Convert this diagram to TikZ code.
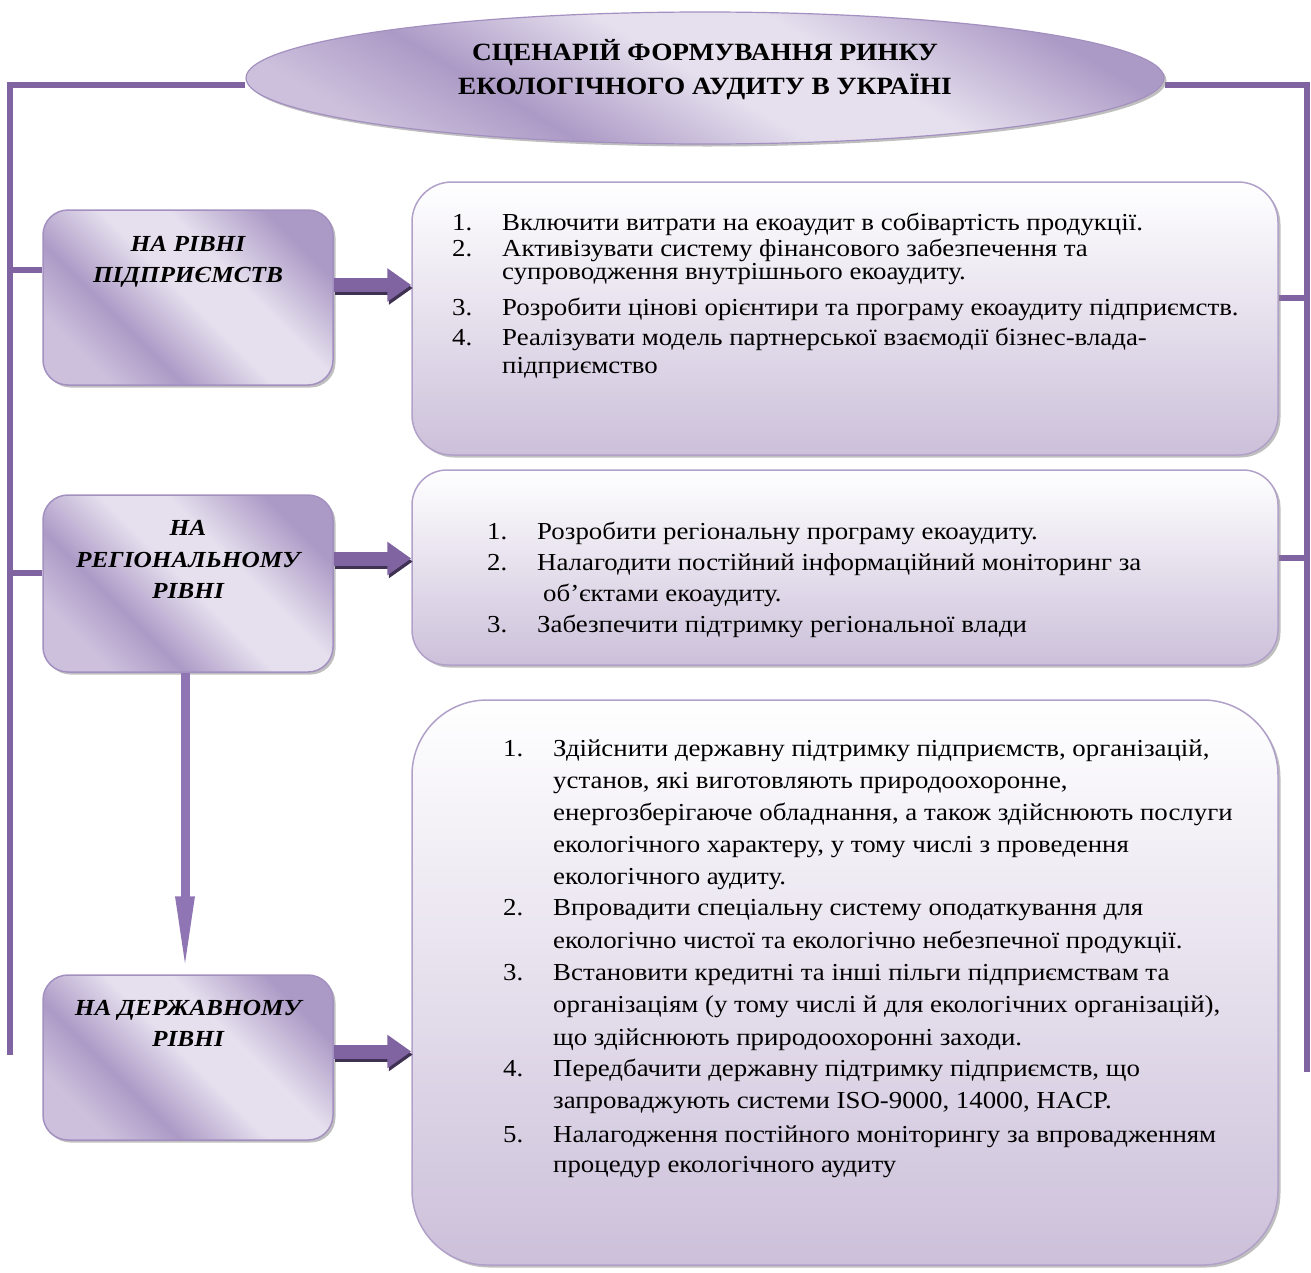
\documentclass[tikz,border=0pt]{standalone}
\usepackage{fontspec}
\setmainfont{Liberation Serif}[FakeStretch=1.1]
\usetikzlibrary{shapes.geometric,shadows,calc,arrows.meta,backgrounds}
\definecolor{buspurple}{HTML}{8064A2}
\definecolor{lpDark}{HTML}{AC9AC6}
\definecolor{lpLight}{HTML}{E6E0EE}
\definecolor{rbBottom}{HTML}{CCC0DA}
\definecolor{edgepurple}{HTML}{A390C0}
\definecolor{arrowshadow}{HTML}{3F3151}
\definecolor{vfill}{HTML}{8F75B3}
\pgfdeclareverticalshading{lvlshade}{100bp}{color(0bp)=(lpLight!55!lpDark); color(25bp)=(lpLight!55!lpDark); color(36bp)=(lpDark); color(50bp)=(lpLight); color(60bp)=(lpLight); color(75bp)=(lpDark); color(100bp)=(lpDark)}
\tikzset{
  bus/.style={buspurple, line width=6pt},
  levelbox/.style={rounded corners=25pt, draw=edgepurple, line width=1.5pt, shade, shading=lvlshade, shading angle=-45,
    minimum width=290pt, drop shadow={shadow xshift=2.5pt, shadow yshift=-2.5pt, fill=black!50}},
  listbox/.style={draw=edgepurple!85, line width=1.5pt, top color=white, bottom color=rbBottom, minimum width=866pt,
    drop shadow={shadow xshift=2.5pt, shadow yshift=-2.5pt, fill=black!50}},
  titleshape/.style={ellipse, draw=edgepurple, line width=1.2pt, shade, shading=lvlshade, shading angle=-30,
    minimum width=918pt, minimum height=132pt, drop shadow={shadow xshift=2.5pt, shadow yshift=-2.5pt, fill=black!50}},
  titletext/.style={align=center, font=\fontsize{24.8}{34}\selectfont\bfseries, inner sep=0pt},
  lvltext/.style={align=center, font=\fontsize{23}{31.5}\selectfont\bfseries\itshape, inner sep=0pt},
  listtext/.style={font=\fontsize{24.4}{24}\selectfont, inner sep=0pt, anchor=base west},
  blockarrow/.style={buspurple, line width=14pt, -{Triangle[width=32pt,length=24pt]}},
  arrowshade/.style={arrowshadow, line width=14pt, -{Triangle[width=32pt,length=24pt]}, transform canvas={xshift=1.5pt,yshift=-3pt}},
  vbar/.style={vfill, line width=9pt, -{Triangle[width=17pt,length=78pt]}},
}
\newcommand\itemline[5]{%
  \node[listtext] (#1n) at (#2,#3) {#4};
  \node[listtext] (#1t) at (#2+50,#3) {#5};}
\newcommand\contline[4]{%
  \node[listtext] (#1) at (#2,#3) {#4};}
\begin{document}
\begin{tikzpicture}[x=1pt,y=-1pt]
\useasboundingbox (0,0) rectangle (1311,1272);
% title
\node[titleshape] (title) at (705,78) {};
\node[titletext] (tt) at (705,70) {СЦЕНАРІЙ ФОРМУВАННЯ РИНКУ\\ЕКОЛОГІЧНОГО АУДИТУ В УКРАЇНІ};
% level boxes
\node[levelbox, minimum height=175pt] (A) at (188,297.5) {};
\node[levelbox, minimum height=177pt] (B) at (188,583.5) {};
\node[levelbox, minimum height=165pt] (C) at (188,1057.5) {};
\node[lvltext] (At) at (188,262) {НА РІВНІ\\ПІДПРИЄМСТВ};
\node[lvltext] (Bt) at (188,559.5) {НА\\РЕГІОНАЛЬНОМУ\\РІВНІ};
\node[lvltext] (Ct) at (188,1023.5) {НА ДЕРЖАВНОМУ\\РІВНІ};
% list boxes
\node[listbox, rounded corners=40pt, minimum height=273pt] (R1) at (845,318.5) {};
\node[listbox, rounded corners=35pt, minimum height=195pt] (R2) at (845,567.5) {};
\node[listbox, rounded corners=75pt, minimum height=565pt] (R3) at (845,982.5) {};
% bus lines
\begin{scope}[on background layer]
\coordinate (LT) at (10,85);
\coordinate (LB) at (10,1055);
\coordinate (RT) at (1307,85);
\coordinate (RB) at (1307,1072);
\draw[bus] (LB) -- (LT) -- ($(title.west)+(0,7)$);
\draw[bus] ($(title.east)+(0,7)$) -- (RT) -- (RB);
\coordinate (LA) at (10,270);
\coordinate (LBr) at (10,573);
\coordinate (R1b) at (1307,298);
\coordinate (R2b) at (1307,558);
\draw[bus] (LA) -- (LA -| A.west);
\draw[bus] (LBr) -- (LBr -| B.west);
\draw[bus] (R1b) -- (R1b -| R1.east);
\draw[bus] (R2b) -- (R2b -| R2.east);
\end{scope}
% arrows
\coordinate (aA) at ($(A.east)+(0,-12.5)$);
\coordinate (aB) at ($(B.east)+(0,-25)$);
\coordinate (aC) at ($(C.east)+(0,-6)$);
\draw[arrowshade] (aA) -- (aA -| R1.west);
\draw[blockarrow] (aA) -- (aA -| R1.west);
\draw[arrowshade] (aB) -- (aB -| R2.west);
\draw[blockarrow] (aB) -- (aB -| R2.west);
\draw[arrowshade] (aC) -- (aC -| R3.west);
\draw[blockarrow] (aC) -- (aC -| R3.west);
\coordinate (vtop) at ($(B.south)+(-3,0)$);
\draw[vbar] (vtop) -- (vtop |- C.north);
% list 1
\itemline{a1}{452}{230}{1.}{Включити витрати на екоаудит в собівартість продукції.}
\itemline{a2}{452}{256}{2.}{Активізувати систему фінансового забезпечення та}
\contline{a2b}{502}{279}{супроводження внутрішнього екоаудиту.}
\itemline{a3}{452}{315}{3.}{Розробити цінові орієнтири та програму екоаудиту підприємств.}
\itemline{a4}{452}{345}{4.}{Реалізувати модель партнерської взаємодії бізнес-влада-}
\contline{a4b}{502}{373}{підприємство}
% list 2
\itemline{b1}{487}{539}{1.}{Розробити регіональну програму екоаудиту.}
\itemline{b2}{487}{570}{2.}{Налагодити постійний інформаційний моніторинг за}
\contline{b2b}{543}{601}{об’єктами екоаудиту.}
\itemline{b3}{487}{632}{3.}{Забезпечити підтримку регіональної влади}
% list 3
\itemline{c1}{503}{756}{1.}{Здійснити державну підтримку підприємств, організацій,}
\contline{c1b}{553}{788}{установ, які виготовляють природоохоронне,}
\contline{c1c}{553}{820}{енергозберігаюче обладнання, а також здійснюють послуги}
\contline{c1d}{553}{852}{екологічного характеру, у тому числі з проведення}
\contline{c1e}{553}{884}{екологічного аудиту.}
\itemline{c2}{503}{915}{2.}{Впровадити спеціальну систему оподаткування для}
\contline{c2b}{553}{948}{екологічно чистої та екологічно небезпечної продукції.}
\itemline{c3}{503}{980}{3.}{Встановити кредитні та інші пільги підприємствам та}
\contline{c3b}{553}{1012}{організаціям (у тому числі й для екологічних організацій),}
\contline{c3c}{553}{1045}{що здійснюють природоохоронні заходи.}
\itemline{c4}{503}{1076}{4.}{Передбачити державну підтримку підприємств, що}
\contline{c4b}{553}{1108}{запроваджують системи ISO-9000, 14000, HACP.}
\itemline{c5}{503}{1142}{5.}{Налагодження постійного моніторингу за впровадженням}
\contline{c5b}{553}{1172}{процедур екологічного аудиту}
\end{tikzpicture}
\end{document}
